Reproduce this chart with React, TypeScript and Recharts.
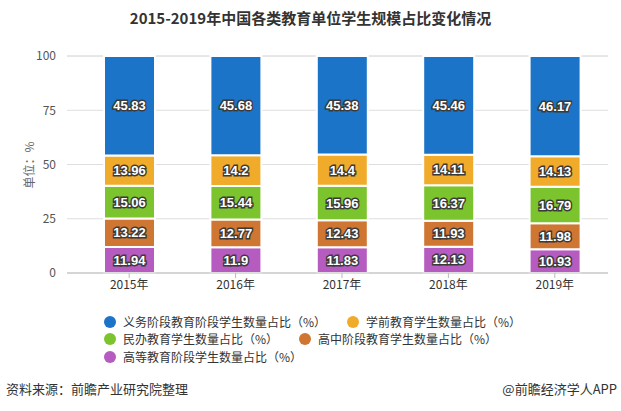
import React from 'react';
import { BarChart, Bar, XAxis, YAxis, CartesianGrid, LabelList } from 'recharts';

const years = ['2015年', '2016年', '2017年', '2018年', '2019年'];

// bottom to top in the stack
const higher = [11.94, 11.9, 11.83, 12.13, 10.93];
const senior = [13.22, 12.77, 12.43, 11.93, 11.98];
const privateEdu = [15.06, 15.44, 15.96, 16.37, 16.79];
const preschool = [13.96, 14.2, 14.4, 14.11, 14.13];
const compulsory = [45.83, 45.68, 45.38, 45.46, 46.17];

const yTicks = [0, 25, 50, 75, 100];

const series = [
  { key: 'higher', name: '高等教育阶段学生数量占比（%）', color: '#b65bc0', values: higher },
  { key: 'senior', name: '高中阶段教育学生数量占比（%）', color: '#cf7632', values: senior },
  { key: 'privateEdu', name: '民办教育学生数量占比（%）', color: '#7cc42d', values: privateEdu },
  { key: 'preschool', name: '学前教育学生数量占比（%）', color: '#f1ab2b', values: preschool },
  { key: 'compulsory', name: '义务阶段教育阶段学生数量占比（%）', color: '#1b74c7', values: compulsory },
];

const data = years.map((year, i) => {
  const row: Record<string, string | number> = { year };
  series.forEach((s) => {
    row[s.key] = s.values[i];
  });
  return row;
});

const font = '"Noto Sans CJK SC", "Noto Sans", sans-serif';

const SegmentLabel = (props: any) => {
  const { x, y, width, height, value } = props;
  return (
    <text
      x={x + width / 2}
      y={y + height / 2}
      textAnchor="middle"
      dominantBaseline="central"
      fill="#fff"
      stroke="#3a3a3a"
      strokeWidth={2.8}
      paintOrder="stroke"
      fontSize={13}
      fontWeight="bold"
      fontFamily='"Liberation Sans", Arial, sans-serif'
    >
      {value}
    </text>
  );
};

// legend items placed as in the reference (flow wrap)
const legendRows = [
  [
    { s: series[4], x: 110, y: 322 },
    { s: series[3], x: 353, y: 322 },
  ],
  [
    { s: series[2], x: 110, y: 339 },
    { s: series[1], x: 305, y: 339 },
  ],
  [{ s: series[0], x: 110, y: 357 }],
];

export default function App() {
  return (
    <div style={{ position: 'relative', width: 621, height: 411, background: '#fff', fontFamily: font, overflow: 'hidden' }}>
      <style>{'body{margin:0}'}</style>
      <div
        style={{
          position: 'absolute',
          top: 8,
          left: 0,
          width: 621,
          textAlign: 'center',
          fontSize: 15,
          fontWeight: 'bold',
          color: '#333',
          lineHeight: '20px',
        }}
      >
        2015-2019年中国各类教育单位学生规模占比变化情况
      </div>
      <div
        style={{
          position: 'absolute',
          left: 28,
          top: 165,
          transform: 'translate(-50%, -50%) rotate(-90deg)',
          fontSize: 12,
          color: '#666',
          whiteSpace: 'nowrap',
        }}
      >
        单位：%
      </div>
      <div style={{ position: 'absolute', left: 0, top: 0 }}>
        <BarChart
          width={621}
          height={411}
          data={data}
          margin={{ top: 56, right: 13, bottom: 108, left: 27 }}
          barSize={51}
        >
          <CartesianGrid vertical={false} stroke="#dedede" />
          <XAxis
            dataKey="year"
            height={30}
            padding={{ left: 9, right: 0 }}
            axisLine={{ stroke: '#bbb' }}
            tickLine={{ stroke: '#bbb' }}
            tickSize={5}
            tick={{ fontSize: 12, fill: '#333', fontFamily: font }}
          />
          <YAxis
            width={40}
            domain={[0, 100]}
            ticks={yTicks}
            axisLine={false}
            tickLine={false}
            tickMargin={5}
            tick={{ fontSize: 12, fill: '#555', fontFamily: font }}
          />
          {series.map((s) => (
            <Bar
              key={s.key}
              dataKey={s.key}
              name={s.name}
              stackId="a"
              fill={s.color}
              stroke="#fff"
              strokeWidth={2}
              isAnimationActive={false}
            >
              <LabelList dataKey={s.key} content={SegmentLabel} />
            </Bar>
          ))}
        </BarChart>
      </div>
      {legendRows.flat().map(({ s, x, y }) => (
        <div key={s.key}>
          <div
            style={{
              position: 'absolute',
              left: x - 6,
              top: y - 6,
              width: 12,
              height: 12,
              borderRadius: 6,
              background: s.color,
            }}
          />
          <div
            style={{
              position: 'absolute',
              left: x + 13,
              top: y - 9,
              fontSize: 12,
              lineHeight: '18px',
              color: '#333',
              whiteSpace: 'nowrap',
            }}
          >
            {s.name}
          </div>
        </div>
      ))}
      <div style={{ position: 'absolute', left: 6, top: 380, fontSize: 13, color: '#333', lineHeight: '18px' }}>
        资料来源：前瞻产业研究院整理
      </div>
      <div
        style={{
          position: 'absolute',
          right: 4,
          top: 380,
          fontSize: 13,
          color: '#333',
          lineHeight: '18px',
          whiteSpace: 'nowrap',
        }}
      >
        @前瞻经济学人APP
      </div>
    </div>
  );
}
